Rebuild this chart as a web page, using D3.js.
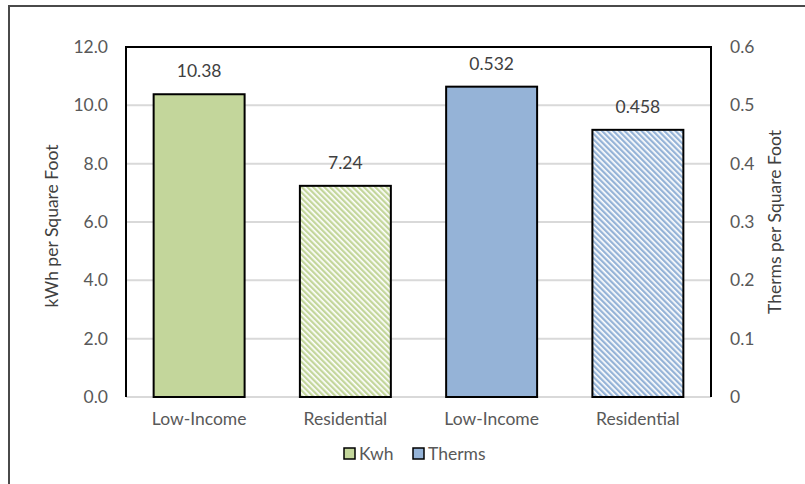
<!DOCTYPE html>
<html>
<head>
<meta charset="utf-8">
<script src="https://cdn.jsdelivr.net/npm/d3@7"></script>
<style>
  body { margin: 0; background: #fff; }
  svg text { font-family: Lato, "Open Sans", sans-serif; }
</style>
</head>
<body>
<div id="view"></div>
<script>
'use strict';

const categories = ['Low-Income', 'Residential', 'Low-Income', 'Residential'];
const series = ['Kwh', 'Therms'];
const kwhValues = [10.38, 7.24];
const thermValues = [0.532, 0.458];
const kwhLabels = ['10.38', '7.24'];
const thermLabels = ['0.532', '0.458'];
const leftTicks = [0, 2, 4, 6, 8, 10, 12];
const rightTicks = [0, 0.1, 0.2, 0.3, 0.4, 0.5, 0.6];

const size = { w: 805, h: 484 };
const plot = { x0: 126, x1: 711, y0: 47, y1: 397 };
const fontSize = 17.5;

const presentation = {
  fill_kwh: '#C3D69B',
  fill_therms: '#95B3D7',
  stroke_bar: '#000000',
  fill_tick: '#595959',
  fill_label: '#404040',
  stroke_grid: '#D9D9D9'
};

const svg = d3.select('#view').append('svg')
  .attr('width', size.w)
  .attr('height', size.h);

const defs = svg.append('defs');
function addStripes(id, color) {
  const p = defs.append('pattern')
    .attr('id', id)
    .attr('patternUnits', 'userSpaceOnUse')
    .attr('width', 4)
    .attr('height', 4)
    .attr('patternTransform', 'rotate(-45)');
  p.append('rect').attr('width', 4).attr('height', 4).attr('fill', '#fff');
  p.append('rect').attr('width', 2.3).attr('height', 4).attr('fill', color);
}
addStripes('stripeKwh', presentation.fill_kwh);
addStripes('stripeTherms', presentation.fill_therms);

// outer frame (only top and left edges are inside the picture)
svg.append('rect')
  .attr('x', 9).attr('y', 6)
  .attr('width', 820).attr('height', 500)
  .attr('fill', 'none')
  .attr('stroke', '#4a4a4a')
  .attr('stroke-width', 2);

const x = d3.scaleBand()
  .domain(d3.range(categories.length))
  .range([plot.x0, plot.x1])
  .paddingInner(0.378)
  .paddingOuter(0.189);

const yLeft = d3.scaleLinear().domain([0, 12]).range([plot.y1, plot.y0]);
const yRight = d3.scaleLinear().domain([0, 0.6]).range([plot.y1, plot.y0]);

// gridlines
svg.append('g')
  .selectAll('line')
  .data(leftTicks)
  .enter()
  .append('line')
  .attr('x1', plot.x0).attr('x2', plot.x1)
  .attr('y1', d => yLeft(d)).attr('y2', d => yLeft(d))
  .attr('stroke', presentation.stroke_grid)
  .attr('stroke-width', 2);

// bars
const bars = [
  { i: 0, v: kwhValues[0], y: yLeft, fill: presentation.fill_kwh, label: kwhLabels[0] },
  { i: 1, v: kwhValues[1], y: yLeft, fill: 'url(#stripeKwh)', label: kwhLabels[1] },
  { i: 2, v: thermValues[0], y: yRight, fill: presentation.fill_therms, label: thermLabels[0] },
  { i: 3, v: thermValues[1], y: yRight, fill: 'url(#stripeTherms)', label: thermLabels[1] }
];

svg.append('g')
  .selectAll('rect')
  .data(bars)
  .enter()
  .append('rect')
  .attr('x', d => x(d.i))
  .attr('y', d => d.y(d.v))
  .attr('width', x.bandwidth())
  .attr('height', d => plot.y1 - d.y(d.v))
  .attr('fill', d => d.fill)
  .attr('stroke', presentation.stroke_bar)
  .attr('stroke-width', 2);

svg.append('g')
  .selectAll('text')
  .data(bars)
  .enter()
  .append('text')
  .attr('x', d => x(d.i) + x.bandwidth() / 2)
  .attr('y', d => d.y(d.v) - 17)
  .attr('text-anchor', 'middle')
  .attr('font-size', fontSize)
  .attr('fill', presentation.fill_label)
  .text(d => d.label);

// plot area frame: left, top, right in black
svg.append('path')
  .attr('d', `M${plot.x0},${plot.y1}V${plot.y0}H${plot.x1}V${plot.y1}`)
  .attr('fill', 'none')
  .attr('stroke', '#000')
  .attr('stroke-width', 2);

// axes
const axisLeft = svg.append('g')
  .attr('transform', `translate(${plot.x0},0)`)
  .call(d3.axisLeft(yLeft).tickValues(leftTicks).tickFormat(d3.format('.1f')).tickSize(0).tickPadding(18));
const axisRight = svg.append('g')
  .attr('transform', `translate(${plot.x1},0)`)
  .call(d3.axisRight(yRight).tickValues(rightTicks).tickFormat(d => d === 0 ? '0' : d3.format('.1f')(d)).tickSize(0).tickPadding(19));
[axisLeft, axisRight].forEach(a => {
  a.select('.domain').remove();
  a.selectAll('text')
    .attr('font-size', fontSize)
    .attr('font-family', 'Lato, sans-serif')
    .attr('fill', presentation.fill_tick);
});

const axisBottom = svg.append('g')
  .attr('transform', `translate(0,${plot.y1})`)
  .call(d3.axisBottom(x).tickFormat(i => categories[i]).tickSize(0).tickPadding(16));
axisBottom.select('.domain').remove();
axisBottom.selectAll('text')
  .attr('font-size', fontSize)
  .attr('font-family', 'Lato, sans-serif')
  .attr('fill', presentation.fill_tick);

// axis titles
svg.append('text')
  .attr('transform', `translate(58,${(plot.y0 + plot.y1) / 2 + 4}) rotate(-90)`)
  .attr('text-anchor', 'middle')
  .attr('font-size', fontSize)
  .attr('fill', presentation.fill_label)
  .text('kWh per Square Foot');

svg.append('text')
  .attr('transform', `translate(781,${(plot.y0 + plot.y1) / 2}) rotate(-90)`)
  .attr('text-anchor', 'middle')
  .attr('font-size', fontSize)
  .attr('fill', presentation.fill_label)
  .text('Therms per Square Foot');

// legend
const legendItems = [
  { name: series[0], fill: presentation.fill_kwh, x: 344 },
  { name: series[1], fill: presentation.fill_therms, x: 413 }
];
const gLegend = svg.append('g');
legendItems.forEach(item => {
  gLegend.append('rect')
    .attr('x', item.x).attr('y', 448)
    .attr('width', 11).attr('height', 11)
    .attr('fill', item.fill)
    .attr('stroke', '#000')
    .attr('stroke-width', 1.5);
  gLegend.append('text')
    .attr('x', item.x + 15).attr('y', 460)
    .attr('font-size', fontSize)
    .attr('fill', presentation.fill_tick)
    .text(item.name);
});
</script>
</body>
</html>
